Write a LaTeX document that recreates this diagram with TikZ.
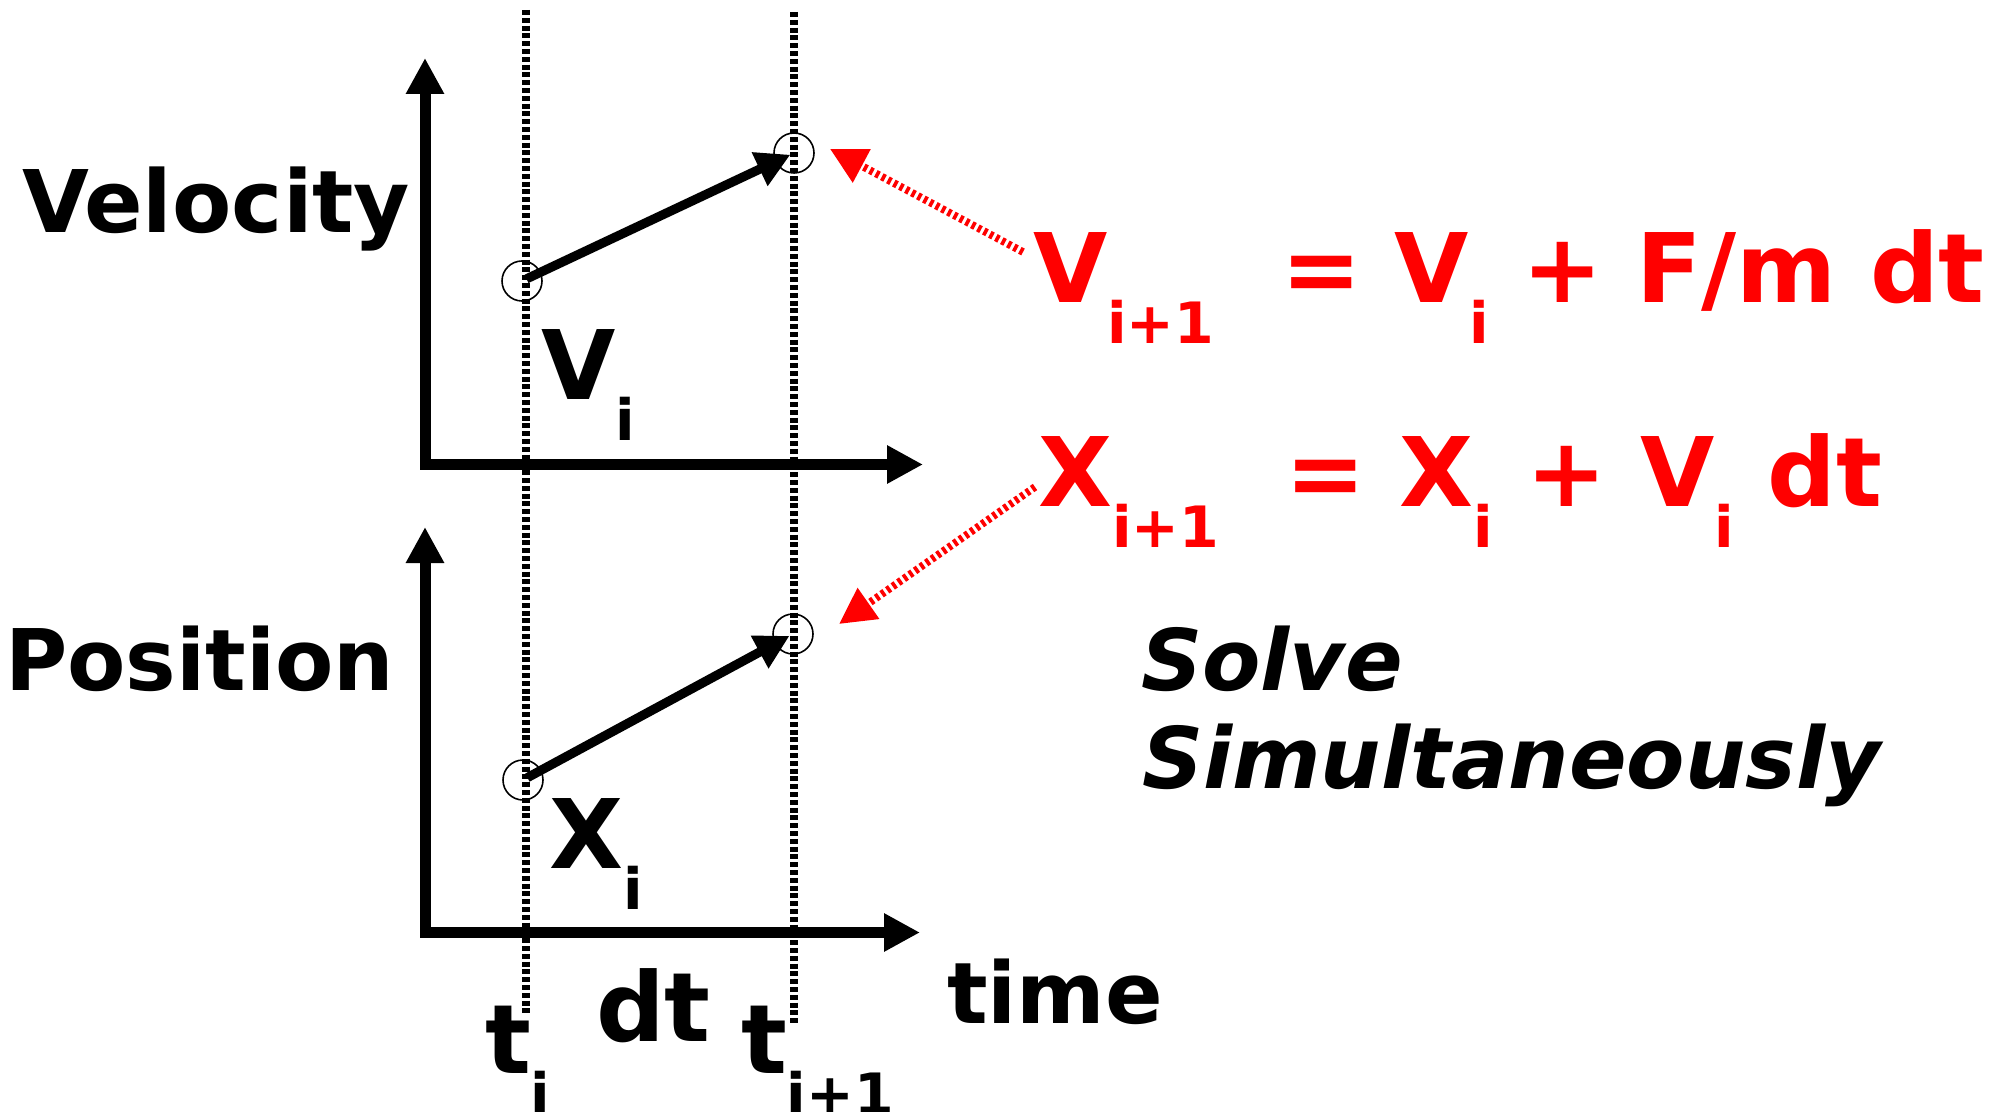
\documentclass[tikz,border=0pt]{standalone}
\usepackage{fontspec}
\setmainfont{DejaVu Sans}
\usetikzlibrary{arrows.meta,calc}
\definecolor{eqred}{RGB}{255,0,0}
\newcommand\labsize{\fontsize{42.5pt}{45pt}\selectfont}
\newcommand\bigsize{\fontsize{48pt}{50pt}\selectfont}
\newcommand\subsc[1]{\raisebox{-20.5pt}{\fontsize{28.5pt}{30pt}\selectfont #1}}
\begin{document}
\begin{tikzpicture}[x=0.5pt,y=-0.5pt,
  axis/.style={line width=5.5pt, line join=miter,
    {Triangle[length=18pt,width=18pt]}-{Triangle[length=18pt,width=18pt]}},
  guide/.style={line width=4pt, dash pattern=on 2.5pt off 1.4pt},
  ptcirc/.style={circle, draw, line width=0.8pt, minimum size=20pt, inner sep=0pt},
  growth/.style={line width=4.6pt, -{Triangle[length=17pt,width=17.5pt]},
    shorten >=2pt, shorten <=2.5pt},
  redarrow/.style={eqred, line width=3.8pt, dash pattern=on 1.8pt off 1.6pt,
    -{Triangle[length=18pt,width=18pt]}},
  lab/.style={anchor=base west, inner sep=0pt, outer sep=0pt, font=\bfseries\labsize},
  big/.style={anchor=base west, inner sep=0pt, outer sep=0pt, font=\bfseries\bigsize},
  eq/.style={big, text=eqred}
]
\useasboundingbox (0,0) rectangle (2006,1112);

% time guides
\coordinate (g1a) at (526,10);
\coordinate (g1b) at (526,1015);
\coordinate (g2a) at (794,12);
\coordinate (g2b) at (794,1025);
\draw[guide] (g1a) -- (g1b);
\draw[guide] (g2a) -- (g2b);

% axes
\coordinate (vy) at (425,58);
\coordinate (vo) at (425,464.5);
\coordinate (vx) at (923,464.5);
\coordinate (py) at (425,527);
\coordinate (po) at (425,932.5);
\coordinate (px) at (920,932.5);
\draw[axis] (vy) -- (vo) -- (vx);
\draw[axis] (py) -- (po) -- (px);

% points
\node[ptcirc] (v0) at (522,281) {};
\node[ptcirc] (v1) at (794,153) {};
\node[ptcirc] (x0) at (523,780) {};
\node[ptcirc] (x1) at (793,634) {};
\draw[growth] (v0.center) -- (v1.center);
\draw[growth] (x0.center) -- (x1.center);

% labels
\node[lab, font=\bfseries\fontsize{43.2pt}{45pt}\selectfont] (vel) at (22,233) {Velocity};
\node[lab] (pos) at (5,690) {Position};
\node[lab] (time) at (947,1023) {time};
\node[big] (vi) at (541,400) {V\subsc{i}};
\node[big] (xi) at (549,868) {X\subsc{i}};
\node[big] (ti) at (485,1073) {t\subsc{i}};
\node[big] (ti1) at (741,1073) {t\subsc{i+1}};
\node[big] (dt) at (596,1041) {dt};

% equations
\node[eq] (eq1) at (1033,303) {V\subsc{i+1}\ \ = V\subsc{i} + F/m dt};
\node[eq] (eq2) at (1038,506) {X\subsc{i+1}\ \ = X\subsc{i} + V\subsc{i} dt};

\node[lab, font=\bfseries\itshape\labsize] (solve) at (1141,690) {Solve};
\node[lab, font=\bfseries\itshape\labsize] (simul) at (1142,788) {Simultaneously};

% red links
\draw[redarrow] ($(eq1.base west)+(-10,-51)$) -- ($(v1.center)+(36,-4)$);
\draw[redarrow] ($(eq2.base west)+(-3,-19)$) -- ($(x1.center)+(46,-10)$);
\end{tikzpicture}
\end{document}
